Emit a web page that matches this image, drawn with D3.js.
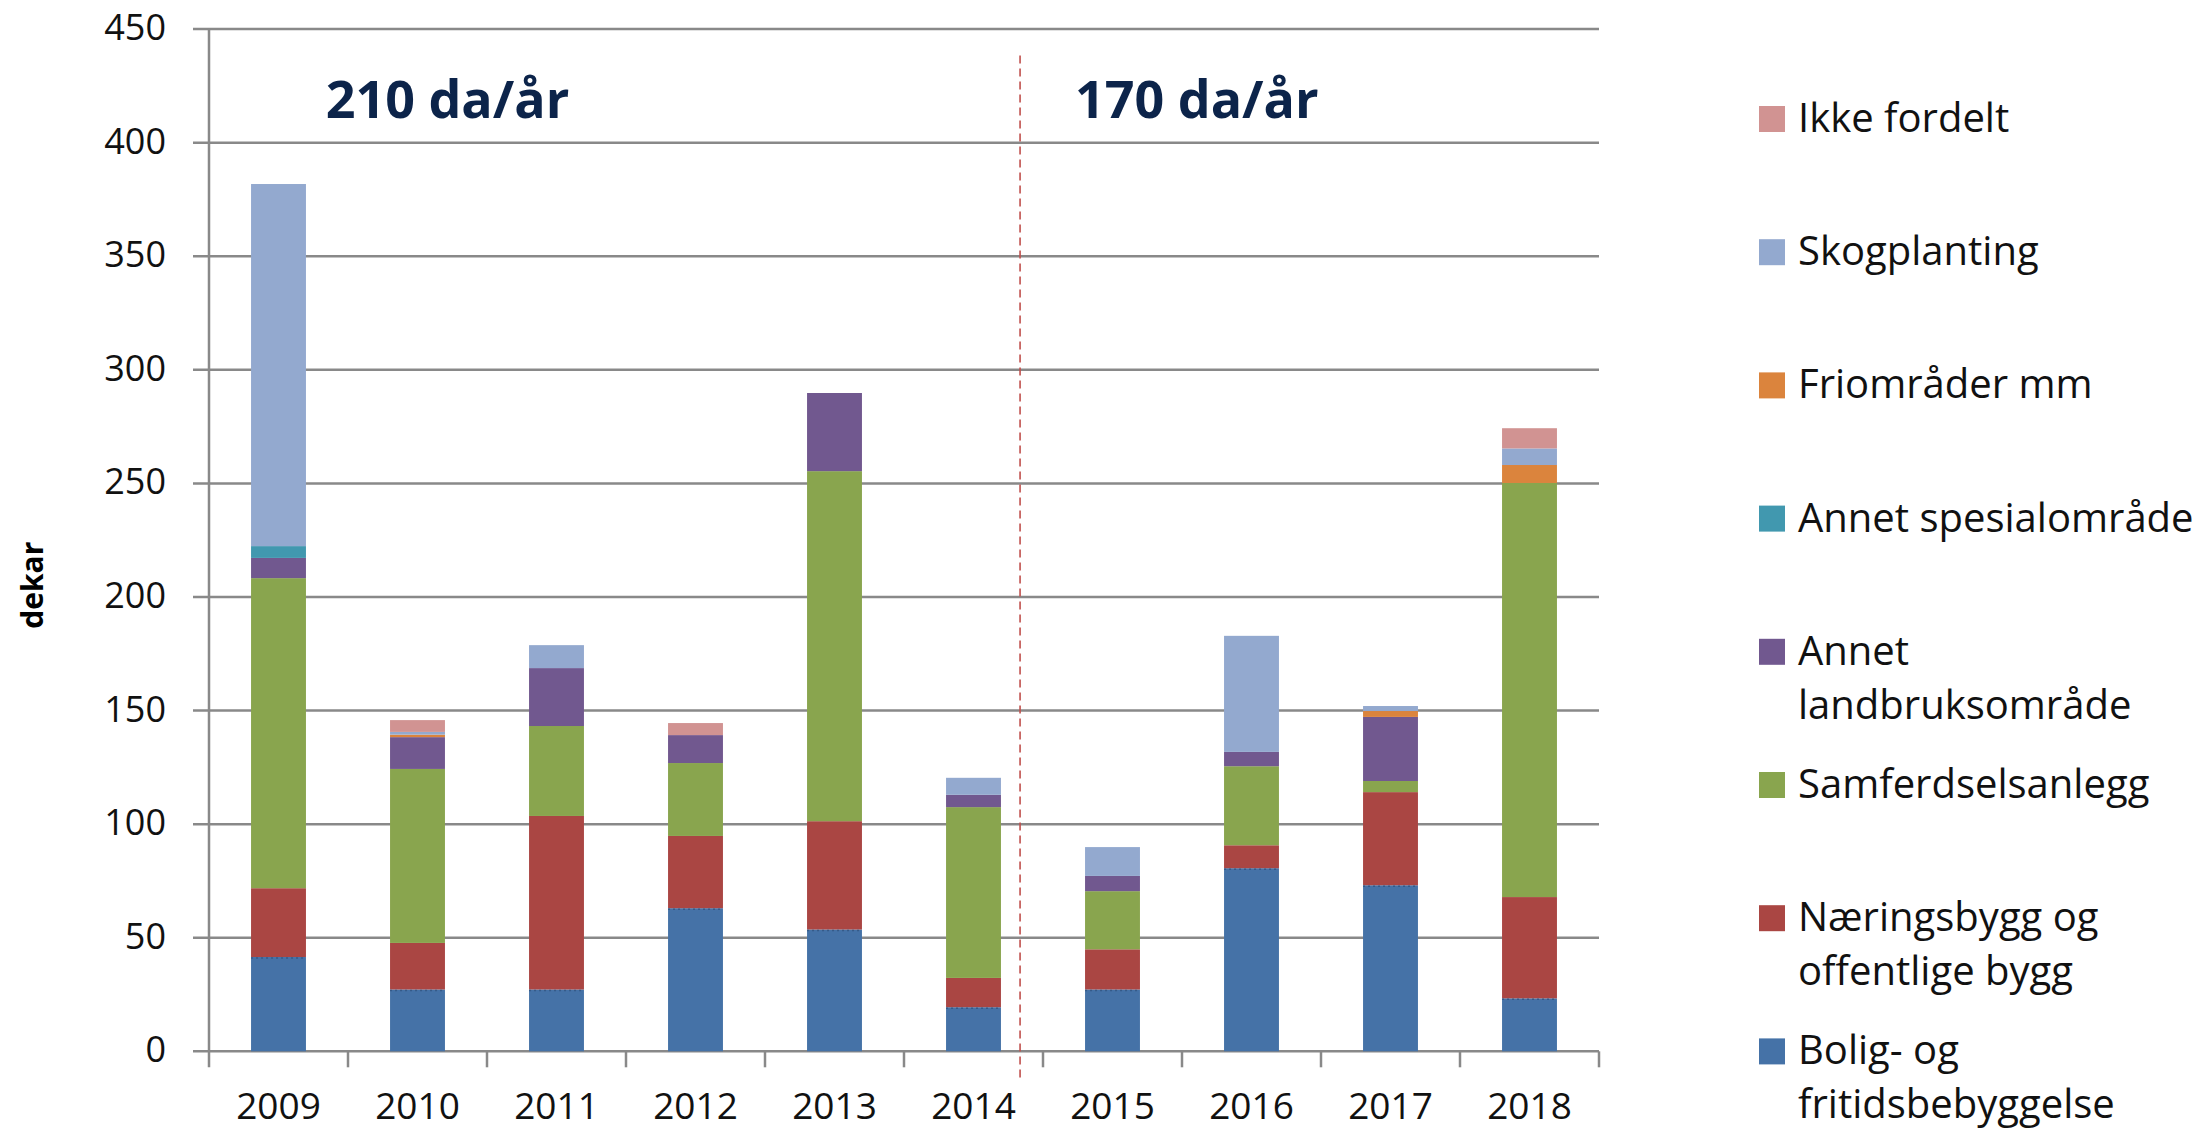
<!DOCTYPE html>
<html><head><meta charset="utf-8">
<script src="https://cdn.jsdelivr.net/npm/d3@7"></script>
<style>html,body{margin:0;padding:0;background:#fff;}svg{display:block;}</style>
</head><body>
<svg id="chart" width="2200" height="1130"></svg>
<script>
const years = ["2009","2010","2011","2012","2013","2014","2015","2016","2017","2018"];
const seriesNames = ["Bolig- og fritidsbebyggelse","Næringsbygg og offentlige bygg","Samferdselsanlegg","Annet landbruksområde","Annet spesialområde","Friområder mm","Skogplanting","Ikke fordelt"];
const legendLines = [["Bolig- og","fritidsbebyggelse"],["Næringsbygg og","offentlige bygg"],["Samferdselsanlegg"],["Annet","landbruksområde"],["Annet spesialområde"],["Friområder mm"],["Skogplanting"],["Ikke fordelt"]];
const colors = ["#4572a7","#aa4643","#89a54e","#71588f","#4198af","#db843d","#93a9cf","#d19392"];
const bolig      = [41.5, 27.2, 27.2, 63.0, 53.6, 19.4, 27.2, 80.6, 73.1, 23.3];
const naering    = [30.3, 20.5, 76.4, 31.8, 47.7, 12.9, 17.7, 10.1, 41.0, 44.6];
const samferdsel = [136.5, 76.6, 39.6, 32.1, 154.1, 75.2, 25.6, 34.8, 4.9, 182.3];
const landbruk   = [8.9, 14.0, 25.5, 12.3, 34.4, 5.4, 6.7, 6.3, 28.2, 0];
const spesial    = [5.2, 0, 0, 0, 0, 0, 0, 0, 0, 0];
const friomrader = [0, 1.1, 0, 0, 0, 0, 0, 0, 2.6, 7.9];
const skog       = [159.4, 1.2, 10.1, 0, 0, 7.5, 12.7, 51.1, 2.2, 7.3];
const ikke       = [0, 5.2, 0, 5.3, 0, 0, 0, 0, 0, 8.9];
const yTicks = [0,50,100,150,200,250,300,350,400,450];
const periodLabels = ["210 da/år","170 da/år"];
const periodPos = [1.716, 7.107];
const yAxisTitle = "dekar";

const seriesValues = [bolig,naering,samferdsel,landbruk,spesial,friomrader,skog,ikke];
const table = years.map((yr,i)=>{const o={year:yr}; seriesNames.forEach((s,k)=>o[s]=seriesValues[k][i]); return o;});
const stacked = d3.stack().keys(seriesNames)(table);

const svg = d3.select("#chart");
const plot = {left:209, right:1599, top:29.1, bottom:1051.3};
const x = d3.scaleBand().domain(years).range([plot.left, plot.right]).padding(0);
const y = d3.scaleLinear().domain([0,450]).range([plot.bottom, plot.top]);
const step = x.step();
const barW = step*0.395;
const font = "'Open Sans', sans-serif";
const gridColor = "#898989";

// gridlines + left ticks
svg.append("g").selectAll("line").data(yTicks).join("line")
  .attr("x1", plot.left-16).attr("x2", plot.right)
  .attr("y1", d=>y(d)).attr("y2", d=>y(d))
  .attr("stroke", gridColor).attr("stroke-width", 2.5);

// y tick labels
svg.append("g").selectAll("text").data(yTicks).join("text")
  .attr("x", 166).attr("y", d=>y(d)+11)
  .attr("text-anchor","end").attr("font-family",font).attr("font-size",36).attr("fill","#111")
  .text(d=>d);

// bars
const layers = svg.append("g").selectAll("g").data(stacked).join("g")
  .attr("fill",(d,i)=>colors[i]);
layers.selectAll("rect").data(d=>d).join("rect")
  .attr("x", d=>x(d.data.year)+(step-barW)/2)
  .attr("width", barW)
  .attr("y", d=>y(d[1]))
  .attr("height", d=>Math.max(0, y(d[0])-y(d[1])));

// dotted top edge on blue segments
svg.append("g").selectAll("line").data(stacked[0]).join("line")
  .attr("x1", d=>x(d.data.year)+(step-barW)/2).attr("x2", d=>x(d.data.year)+(step+barW)/2)
  .attr("y1", d=>y(d[1])+1).attr("y2", d=>y(d[1])+1)
  .attr("stroke","#355a88").attr("stroke-width",1.5).attr("stroke-dasharray","2,3");

// y axis line
svg.append("line").attr("x1",plot.left).attr("x2",plot.left)
  .attr("y1",plot.top).attr("y2",plot.bottom+16)
  .attr("stroke",gridColor).attr("stroke-width",2.5);
// x axis ticks
const bounds = years.map(d=>x(d)).concat([plot.right]);
svg.append("g").selectAll("line").data(bounds.slice(1)).join("line")
  .attr("x1",d=>d).attr("x2",d=>d).attr("y1",plot.bottom).attr("y2",plot.bottom+16)
  .attr("stroke",gridColor).attr("stroke-width",2.5);

// x labels
svg.append("g").selectAll("text").data(years).join("text")
  .attr("x", d=>x(d)+step/2).attr("y", 1119)
  .attr("text-anchor","middle").attr("font-family",font).attr("font-size",37).attr("fill","#111")
  .text(d=>d);

// y axis title
svg.append("text").attr("transform",`translate(43,${(y(0)+y(450))/2+45}) rotate(-90)`)
  .attr("text-anchor","middle").attr("font-family",font).attr("font-weight","bold")
  .attr("font-size",30).attr("fill","#000").text(yAxisTitle);

// dashed divider
const divX = x("2015") - step*0.165;
svg.append("line").attr("x1",divX).attr("x2",divX)
  .attr("y1", y(438.4)).attr("y2", plot.bottom+30)
  .attr("stroke","#c0504d").attr("stroke-width",1.6).attr("stroke-dasharray","8,5");

// period labels
svg.append("g").selectAll("text").data(periodLabels).join("text")
  .attr("x",(d,i)=>plot.left+periodPos[i]*step).attr("y", y(411))
  .attr("text-anchor","middle").attr("font-family",font).attr("font-weight","bold")
  .attr("font-size",52).attr("fill","#0c244a").text(d=>d);

// legend
const legendOrder = d3.range(seriesNames.length).reverse();
const lg = svg.append("g").selectAll("g").data(legendOrder).join("g")
  .attr("transform",(d,i)=>`translate(1759,${119 + i*133.2})`);
lg.append("rect").attr("x",0).attr("y",-13).attr("width",26).attr("height",26)
  .attr("fill",d=>colors[d]);
lg.append("text").attr("x",39).attr("y",13).attr("font-family",font).attr("font-size",40).attr("fill","#111")
  .selectAll("tspan").data(d=>legendLines[d]).join("tspan")
  .attr("x",39).attr("dy",(d,i)=>i===0?0:54).text(d=>d);
</script>
</body></html>
